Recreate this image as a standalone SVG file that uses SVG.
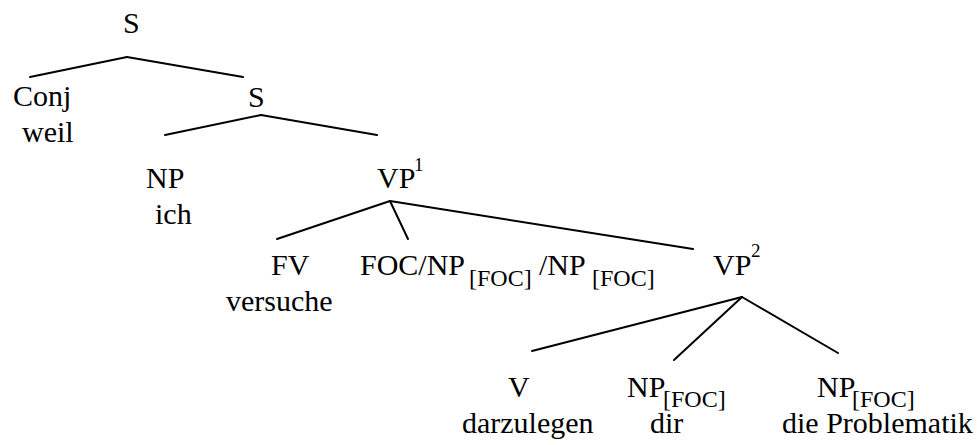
<svg xmlns="http://www.w3.org/2000/svg" width="980" height="445" viewBox="0 0 980 445">
<rect width="980" height="445" fill="#fff"/>
<g id="connectors" stroke="#000" stroke-width="2" fill="none" stroke-linecap="round">
<line x1="127" y1="57" x2="30" y2="77"/>
<line x1="127" y1="57" x2="243" y2="77"/>
<line x1="261" y1="115" x2="165" y2="135"/>
<line x1="261" y1="115" x2="377" y2="135"/>
<line x1="390" y1="201" x2="277" y2="239"/>
<line x1="390" y1="201" x2="408" y2="239"/>
<line x1="390" y1="201" x2="693" y2="249"/>
<line x1="742" y1="297" x2="532" y2="351"/>
<line x1="742" y1="297" x2="674" y2="360"/>
<line x1="742" y1="297" x2="838" y2="353"/>
</g>
<g id="node-S-top"><text x="123" y="33" font-family="Liberation Serif" font-size="30">S</text></g>
<g id="node-Conj"><text x="13" y="106" font-family="Liberation Serif" font-size="30">Conj</text><text x="22" y="142" font-family="Liberation Serif" font-size="30">weil</text></g>
<g id="node-S"><text x="248" y="107" font-family="Liberation Serif" font-size="30">S</text></g>
<g id="node-NP"><text x="146" y="188" font-family="Liberation Serif" font-size="30">NP</text><text x="155" y="224" font-family="Liberation Serif" font-size="30">ich</text></g>
<g id="node-VP1"><text x="377" y="188" font-family="Liberation Serif" font-size="30">VP</text><text x="414" y="171" font-family="Liberation Serif" font-size="19">1</text></g>
<g id="node-FV"><text x="271" y="275" font-family="Liberation Serif" font-size="30">FV</text><text x="226" y="311" font-family="Liberation Serif" font-size="30">versuche</text></g>
<g id="node-FOC"><text x="360" y="275" font-family="Liberation Serif" font-size="30">FOC/NP</text><text x="469" y="286" font-family="Liberation Serif" font-size="24">[FOC]</text><text x="539" y="275" font-family="Liberation Serif" font-size="30">/NP</text><text x="592" y="286" font-family="Liberation Serif" font-size="24">[FOC]</text></g>
<g id="node-VP2"><text x="713" y="275" font-family="Liberation Serif" font-size="30">VP</text><text x="751" y="257" font-family="Liberation Serif" font-size="19">2</text></g>
<g id="node-V"><text x="508" y="397" font-family="Liberation Serif" font-size="30">V</text><text x="462" y="433" font-family="Liberation Serif" font-size="30">darzulegen</text></g>
<g id="node-NP-dir"><text x="627" y="397" font-family="Liberation Serif" font-size="30">NP</text><text x="663" y="407" font-family="Liberation Serif" font-size="24">[FOC]</text><text x="650" y="433" font-family="Liberation Serif" font-size="30">dir</text></g>
<g id="node-NP-prob"><text x="817" y="397" font-family="Liberation Serif" font-size="30">NP</text><text x="852" y="407" font-family="Liberation Serif" font-size="24">[FOC]</text><text x="782" y="433" font-family="Liberation Serif" font-size="30">die Problematik</text></g>
</svg>
